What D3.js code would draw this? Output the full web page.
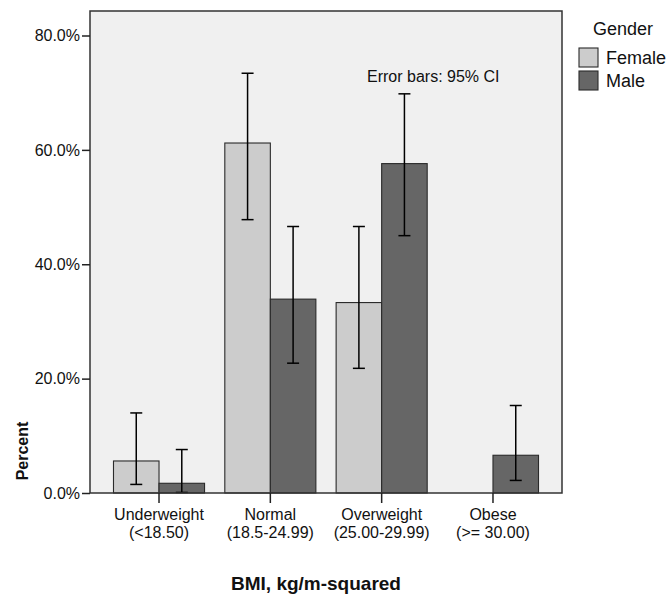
<!DOCTYPE html>
<html>
<head>
<meta charset="utf-8">
<script src="https://cdn.jsdelivr.net/npm/d3@7/dist/d3.min.js"></script>
<style>
  html, body { margin: 0; padding: 0; background: #ffffff; }
  svg { display: block; font-family: "Liberation Sans", Arial, sans-serif; }
</style>
</head>
<body>
<svg id="chart" width="670" height="596"></svg>
<script>
// BMI categories (two-line tick labels)
const categories = ["Underweight", "Normal", "Overweight", "Obese"];
const categoryRanges = ["(<18.50)", "(18.5-24.99)", "(25.00-29.99)", "(>= 30.00)"];
const genders = ["Female", "Male"];

// Percent of each gender in each BMI category
const femalePct = [5.6, 61.2, 33.3, 0.0];
const malePct = [1.7, 33.9, 57.6, 6.6];

// 95% confidence intervals (lower, upper); no interval where the percent is zero
const femaleLow = [1.5, 47.8, 21.8, null];
const femaleHigh = [14.0, 73.4, 46.6, null];
const maleLow = [0.1, 22.7, 45.0, 2.2];
const maleHigh = [7.6, 46.6, 69.8, 15.3];

const yTicks = [0, 20, 40, 60, 80];

const colors = { Female: "#cccccc", Male: "#666666" };

const rows = [];
categories.forEach((c, i) => {
  rows.push({ cat: c, gender: "Female", value: femalePct[i], lo: femaleLow[i], hi: femaleHigh[i] });
  rows.push({ cat: c, gender: "Male", value: malePct[i], lo: maleLow[i], hi: maleHigh[i] });
});

const svg = d3.select("#chart");

const plot = { left: 90, right: 562, top: 11, bottom: 493 };

const x = d3.scaleBand()
  .domain(categories)
  .range([plot.left, plot.right])
  .paddingInner(0.182)
  .paddingOuter(0.211);

const xSub = d3.scaleBand()
  .domain(genders)
  .range([0, x.bandwidth()]);

const y = d3.scaleLinear()
  .domain([0, 80])
  .range([plot.bottom, 35.5]);

// plot background
svg.append("rect")
  .attr("x", plot.left)
  .attr("y", plot.top)
  .attr("width", plot.right - plot.left)
  .attr("height", plot.bottom - plot.top)
  .attr("fill", "#f0f0f0");

// bars
svg.append("g")
  .selectAll("rect")
  .data(rows)
  .join("rect")
  .attr("x", d => x(d.cat) + xSub(d.gender))
  .attr("width", xSub.bandwidth())
  .attr("y", d => y(d.value))
  .attr("height", d => y(0) - y(d.value))
  .attr("fill", d => colors[d.gender])
  .attr("stroke", "#2a2a2a")
  .attr("stroke-width", 1.1);

// error bars
const capHalf = 6;
const eb = svg.append("g")
  .attr("stroke", "#000")
  .attr("stroke-width", 1.5)
  .selectAll("g")
  .data(rows.filter(d => d.lo !== null))
  .join("g")
  .attr("transform", d => `translate(${x(d.cat) + xSub(d.gender) + xSub.bandwidth() / 2},0)`);
eb.append("line").attr("x1", 0).attr("x2", 0).attr("y1", d => y(d.lo)).attr("y2", d => y(d.hi));
eb.append("line").attr("x1", -capHalf).attr("x2", capHalf).attr("y1", d => y(d.hi)).attr("y2", d => y(d.hi));
eb.append("line").attr("x1", -capHalf).attr("x2", capHalf).attr("y1", d => y(d.lo)).attr("y2", d => y(d.lo));

// plot frame
svg.append("rect")
  .attr("x", plot.left)
  .attr("y", plot.top)
  .attr("width", plot.right - plot.left)
  .attr("height", plot.bottom - plot.top)
  .attr("fill", "none")
  .attr("stroke", "#333")
  .attr("stroke-width", 1.5);

// y axis
const yAxis = svg.append("g")
  .attr("transform", `translate(${plot.left},0)`)
  .call(d3.axisLeft(y).tickValues(yTicks).tickSize(8).tickSizeOuter(0).tickPadding(2)
    .tickFormat(d => d.toFixed(1) + "%"));
yAxis.select(".domain").remove();
yAxis.selectAll(".tick line").attr("stroke", "#222").attr("stroke-width", 1.5);
yAxis.selectAll(".tick text")
  .attr("fill", "#111")
  .style("font-size", "16px")
  .style("font-family", "'Liberation Sans', Arial, sans-serif");

// x axis
const xAxis = svg.append("g")
  .attr("transform", `translate(0,${plot.bottom})`)
  .call(d3.axisBottom(x).tickSize(10).tickSizeOuter(0).tickFormat(() => ""));
xAxis.select(".domain").remove();
xAxis.selectAll(".tick line").attr("stroke", "#222").attr("stroke-width", 1.5);
xAxis.selectAll(".tick").each(function (d, i) {
  const t = d3.select(this).append("text")
    .attr("text-anchor", "middle")
    .attr("fill", "#111")
    .style("font-size", "16px")
    .style("font-family", "'Liberation Sans', Arial, sans-serif");
  t.append("tspan").attr("x", 0).attr("y", 27).text(categories[i]);
  t.append("tspan").attr("x", 0).attr("y", 45).text(categoryRanges[i]);
});

// axis titles
svg.append("text")
  .attr("transform", "translate(28,451) rotate(-90)")
  .attr("text-anchor", "middle")
  .attr("font-weight", "bold")
  .attr("fill", "#111")
  .style("font-size", "16px")
  .text("Percent");

svg.append("text")
  .attr("x", 316)
  .attr("y", 590)
  .attr("text-anchor", "middle")
  .attr("font-weight", "bold")
  .attr("fill", "#111")
  .style("font-size", "19px")
  .text("BMI, kg/m-squared");

// error bar note
svg.append("text")
  .attr("x", 367)
  .attr("y", 82)
  .attr("fill", "#111")
  .style("font-size", "16px")
  .text("Error bars: 95% CI");

// legend
const legend = svg.append("g");
legend.append("text")
  .attr("x", 623)
  .attr("y", 35)
  .attr("text-anchor", "middle")
  .attr("fill", "#111")
  .style("font-size", "18px")
  .text("Gender");
const li = legend.selectAll("g.item")
  .data(genders)
  .join("g")
  .attr("class", "item")
  .attr("transform", (d, i) => `translate(579,${48 + i * 23})`);
li.append("rect")
  .attr("width", 19)
  .attr("height", 19)
  .attr("fill", d => colors[d])
  .attr("stroke", "#2a2a2a")
  .attr("stroke-width", 1.1);
li.append("text")
  .attr("x", 27)
  .attr("y", 16)
  .attr("fill", "#111")
  .style("font-size", "18px")
  .text(d => d);
</script>
</body>
</html>
